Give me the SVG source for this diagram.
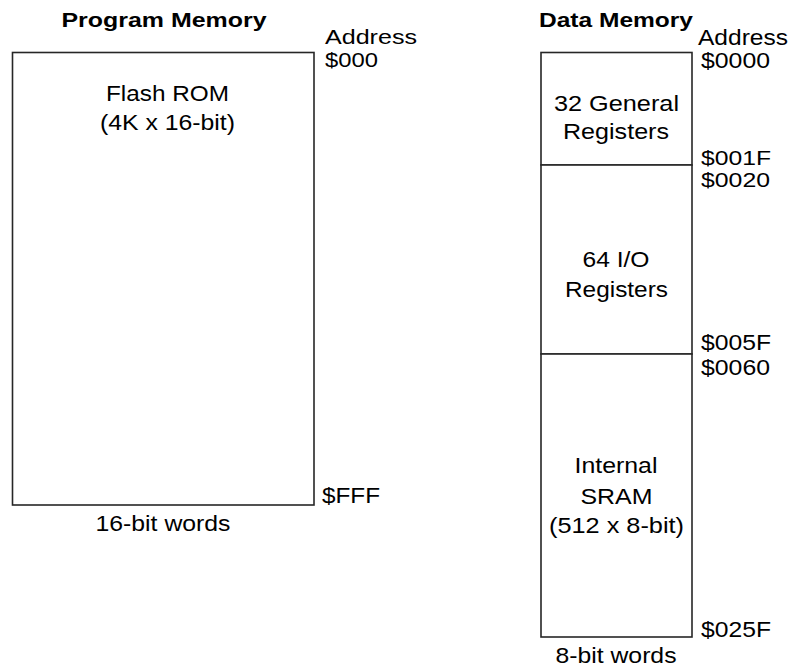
<svg xmlns="http://www.w3.org/2000/svg" width="792" height="667" viewBox="0 0 792 667">
  <style>
    .box { fill: #ffffff; stroke: #262626; stroke-width: 1.6; }
    text { font-family: "Liberation Sans", Arial, sans-serif; font-size: 22px; fill: #000000; }
    .title { font-weight: bold; font-size: 21px; }
    .mid { text-anchor: middle; }
    .tight { font-size: 20px; }
  </style>
  <rect width="792" height="667" fill="#ffffff"/>

  <!-- Program memory column -->
  <g id="program-memory-title">
    <text class="title mid" x="164" y="26.5" textLength="205" lengthAdjust="spacingAndGlyphs">Program Memory</text>
  </g>
  <g id="flash-rom">
    <rect class="box" x="12.5" y="52.5" width="301.5" height="452.5"/>
    <text class="mid" x="167.5" y="101" textLength="123" lengthAdjust="spacingAndGlyphs">Flash ROM</text>
    <text class="mid" x="167.5" y="130" textLength="135" lengthAdjust="spacingAndGlyphs">(4K x 16-bit)</text>
  </g>
  <g id="program-addresses">
    <text class="tight" x="325" y="43.5" textLength="92" lengthAdjust="spacingAndGlyphs">Address</text>
    <text class="tight" x="325" y="67" textLength="53" lengthAdjust="spacingAndGlyphs">$000</text>
    <text x="322" y="503" textLength="58" lengthAdjust="spacingAndGlyphs">$FFF</text>
  </g>
  <g id="program-width">
    <text class="mid" x="163" y="531" textLength="135" lengthAdjust="spacingAndGlyphs">16-bit words</text>
  </g>

  <!-- Data memory column -->
  <g id="data-memory-title">
    <text class="title mid" x="616" y="26.5" textLength="154" lengthAdjust="spacingAndGlyphs">Data Memory</text>
  </g>
  <g id="general-registers">
    <rect class="box" x="541" y="52.5" width="151" height="112.5"/>
    <text class="mid" x="616.5" y="111" textLength="125" lengthAdjust="spacingAndGlyphs">32 General</text>
    <text class="mid" x="616" y="139" textLength="106" lengthAdjust="spacingAndGlyphs">Registers</text>
  </g>
  <g id="io-registers">
    <rect class="box" x="541" y="165" width="151" height="189"/>
    <text class="mid" x="616" y="267" textLength="67" lengthAdjust="spacingAndGlyphs">64 I/O</text>
    <text class="mid" x="616.5" y="296.5" textLength="103" lengthAdjust="spacingAndGlyphs">Registers</text>
  </g>
  <g id="internal-sram">
    <rect class="box" x="541" y="354" width="151" height="283"/>
    <text class="mid" x="616" y="473" textLength="83" lengthAdjust="spacingAndGlyphs">Internal</text>
    <text class="mid" x="616.5" y="503.5" textLength="72" lengthAdjust="spacingAndGlyphs">SRAM</text>
    <text class="mid" x="616.5" y="533" textLength="135" lengthAdjust="spacingAndGlyphs">(512 x 8-bit)</text>
  </g>
  <g id="data-addresses">
    <text x="698" y="45" textLength="90" lengthAdjust="spacingAndGlyphs">Address</text>
    <text x="701" y="68" textLength="69" lengthAdjust="spacingAndGlyphs">$0000</text>
    <text class="tight" x="701" y="164.5" textLength="70" lengthAdjust="spacingAndGlyphs">$001F</text>
    <text class="tight" x="701" y="187" textLength="69" lengthAdjust="spacingAndGlyphs">$0020</text>
    <text x="701" y="350" textLength="70" lengthAdjust="spacingAndGlyphs">$005F</text>
    <text x="701" y="375" textLength="69" lengthAdjust="spacingAndGlyphs">$0060</text>
    <text x="701" y="637" textLength="70" lengthAdjust="spacingAndGlyphs">$025F</text>
  </g>
  <g id="data-width">
    <text class="mid" x="616" y="663" textLength="121" lengthAdjust="spacingAndGlyphs">8-bit words</text>
  </g>

  <!-- no connectors in this layout -->
  <g id="connectors"></g>
</svg>
